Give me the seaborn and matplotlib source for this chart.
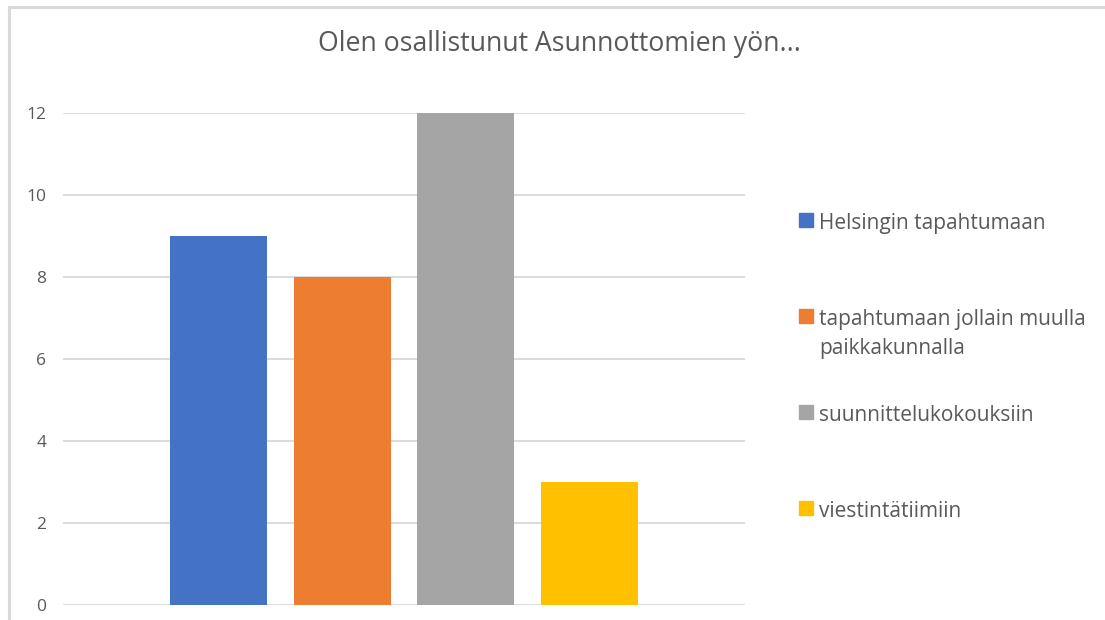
import matplotlib
matplotlib.use("Agg")
import matplotlib.pyplot as plt
import matplotlib.patches as mpatches
import seaborn as sns
import pandas as pd

# ---- data ----
title = "Olen osallistunut Asunnottomien yön..."
categories = ["Helsingin tapahtumaan",
              "tapahtumaan jollain muulla\npaikkakunnalla",
              "suunnittelukokouksiin",
              "viestintätiimiin"]
values = [9, 8, 12, 3]
colors = ["#4472C4", "#ED7D31", "#A5A5A5", "#FFC000"]
yticks = [0, 2, 4, 6, 8, 10, 12]

sns.set_theme(style="white")
plt.rcParams['font.family'] = ['Open Sans', 'DejaVu Sans']

W, H = 1105, 620
fig = plt.figure(figsize=(W / 100, H / 100), dpi=100)
fig.patch.set_facecolor("white")

# outer chart border (cropped on right / bottom like reference)
fig.patches.append(mpatches.Rectangle((8.5 / W, -0.1), 1.2, 1.1 - 6.5 / H,
                                      transform=fig.transFigure, fill=False,
                                      edgecolor="#D9D9D9", linewidth=2.2, zorder=0))

ax = fig.add_axes([63 / W, 1 - 605 / H, (745 - 63) / W, (605 - 113) / H])

df = pd.DataFrame({"cat": categories, "val": values})
sns.barplot(data=df, x="cat", y="val", hue="cat", palette=colors,
            order=categories, hue_order=categories, dodge=False,
            width=0.785, legend=False, ax=ax, saturation=1, zorder=3,
            linewidth=0, edgecolor="none")

ax.set_xlim(-1.263, 4.263)
ax.set_ylim(0, 12)
ax.set_yticks(yticks)
ax.set_yticklabels([str(t) for t in yticks], fontsize=12.5, color="#595959")
ax.set_xticks([])
ax.set_xlabel("")
ax.set_ylabel("")
ax.tick_params(axis="y", length=0, pad=12)
ax.grid(axis="y", color="#D9D9D9", linewidth=1.3, zorder=0)
for s in ax.spines.values():
    s.set_visible(False)

fig.text(559 / W, 1 - 44 / H, title, ha="center", va="center",
         fontsize=19.2, color="#595959")

# legend: one entry per legend so spacing matches Excel layout
leg_y = [221, 317, 413, 509]
for i, (lab, col, y) in enumerate(zip(categories, colors, leg_y)):
    h = mpatches.Patch(facecolor=col, edgecolor=col)
    leg = ax.legend([h], [lab], loc="upper left",
                    bbox_to_anchor=(799 / W, 1 - (y - 8) / H),
                    bbox_transform=fig.transFigure, frameon=False,
                    fontsize=15, handlelength=0.68, handleheight=0.68,
                    handletextpad=0.3, borderpad=0, borderaxespad=0,
                    labelcolor="#595959")
    for t in leg.get_texts():
        t.set_linespacing(1.5)
    for col_box in leg._legend_handle_box.get_children():
        for row in col_box.get_children():
            row.align = "top"
    if i < len(categories) - 1:
        ax.add_artist(leg)

fig.savefig("out.png", dpi=100, facecolor="white")
